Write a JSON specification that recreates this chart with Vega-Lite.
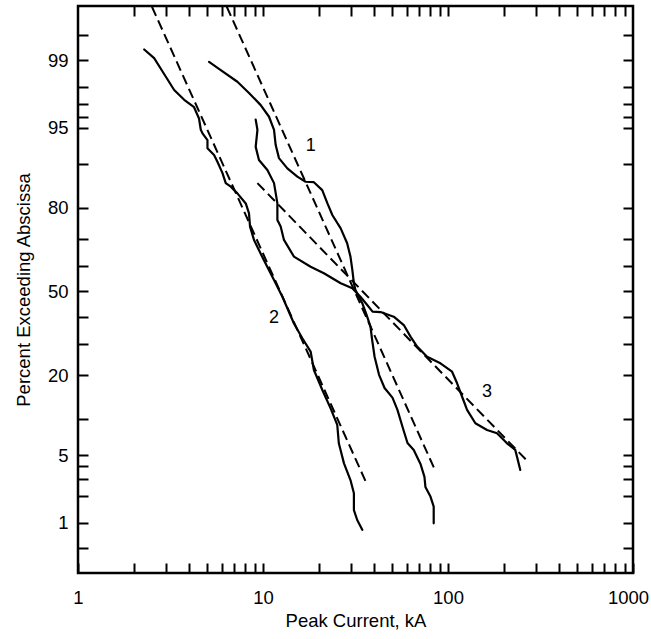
{
  "$schema": "https://vega.github.io/schema/vega-lite/v6.json",
  "width": 555,
  "height": 567,
  "autosize": {"type": "none"},
  "padding": {"left": 78, "top": 6, "right": 18, "bottom": 66},
  "config": {
    "font": "Liberation Sans",
    "view": {"stroke": "black", "strokeWidth": 2.5},
    "axis": {
      "domain": false,
      "grid": false,
      "ticks": true,
      "tickSize": -10,
      "tickWidth": 2,
      "tickColor": "black",
      "labelFont": "Liberation Sans",
      "labelFontSize": 18.5,
      "labelColor": "black",
      "titleFont": "Liberation Sans",
      "titleFontSize": 18.5,
      "titleFontWeight": "normal",
      "titleColor": "black",
      "labelOverlap": false,
      "labelFlush": false,
      "labelBound": false
    }
  },
  "datasets": {
    "curves": [
      {"curve": "1", "n": 1, "kA": 5.11, "pct": 98.95},
      {"curve": "1", "n": 2, "kA": 5.91, "pct": 98.7},
      {"curve": "1", "n": 3, "kA": 7.27, "pct": 98.25},
      {"curve": "1", "n": 4, "kA": 8.4, "pct": 97.7},
      {"curve": "1", "n": 5, "kA": 9.72, "pct": 96.95},
      {"curve": "1", "n": 6, "kA": 10.78, "pct": 96.05},
      {"curve": "1", "n": 7, "kA": 11.47, "pct": 94.8},
      {"curve": "1", "n": 8, "kA": 11.71, "pct": 92.95},
      {"curve": "1", "n": 9, "kA": 12.2, "pct": 91.0},
      {"curve": "1", "n": 10, "kA": 13.54, "pct": 89.2},
      {"curve": "1", "n": 11, "kA": 15.33, "pct": 87.6},
      {"curve": "1", "n": 12, "kA": 17.0, "pct": 86.5},
      {"curve": "1", "n": 13, "kA": 18.84, "pct": 86.4},
      {"curve": "1", "n": 14, "kA": 20.9, "pct": 84.6},
      {"curve": "1", "n": 15, "kA": 22.3, "pct": 81.2},
      {"curve": "1", "n": 16, "kA": 23.7, "pct": 77.9},
      {"curve": "1", "n": 17, "kA": 26.3, "pct": 73.7},
      {"curve": "1", "n": 18, "kA": 28.5, "pct": 68.6},
      {"curve": "1", "n": 19, "kA": 29.7, "pct": 63.7},
      {"curve": "1", "n": 20, "kA": 30.4, "pct": 58.6},
      {"curve": "1", "n": 21, "kA": 31.0, "pct": 53.3},
      {"curve": "1", "n": 22, "kA": 31.6, "pct": 50.6},
      {"curve": "1", "n": 23, "kA": 34.4, "pct": 45.3},
      {"curve": "1", "n": 24, "kA": 36.3, "pct": 40.7},
      {"curve": "1", "n": 25, "kA": 38.1, "pct": 36.2},
      {"curve": "1", "n": 26, "kA": 38.9, "pct": 31.3},
      {"curve": "1", "n": 27, "kA": 40.1, "pct": 25.6},
      {"curve": "1", "n": 28, "kA": 42.4, "pct": 20.1},
      {"curve": "1", "n": 29, "kA": 45.4, "pct": 16.6},
      {"curve": "1", "n": 30, "kA": 50.1, "pct": 14.3},
      {"curve": "1", "n": 31, "kA": 53.3, "pct": 11.7},
      {"curve": "1", "n": 32, "kA": 56.8, "pct": 8.66},
      {"curve": "1", "n": 33, "kA": 60.4, "pct": 6.39},
      {"curve": "1", "n": 34, "kA": 65.3, "pct": 5.56},
      {"curve": "1", "n": 35, "kA": 71.0, "pct": 4.15},
      {"curve": "1", "n": 36, "kA": 74.6, "pct": 3.12},
      {"curve": "1", "n": 37, "kA": 75.5, "pct": 2.47},
      {"curve": "1", "n": 38, "kA": 80.4, "pct": 1.96},
      {"curve": "1", "n": 39, "kA": 83.7, "pct": 1.53},
      {"curve": "1", "n": 40, "kA": 83.7, "pct": 0.99},

      {"curve": "2", "n": 1, "kA": 2.28, "pct": 99.25},
      {"curve": "2", "n": 2, "kA": 2.58, "pct": 99.05},
      {"curve": "2", "n": 3, "kA": 2.87, "pct": 98.64},
      {"curve": "2", "n": 4, "kA": 3.31, "pct": 97.86},
      {"curve": "2", "n": 5, "kA": 3.75, "pct": 97.3},
      {"curve": "2", "n": 6, "kA": 4.24, "pct": 96.8},
      {"curve": "2", "n": 7, "kA": 4.51, "pct": 95.9},
      {"curve": "2", "n": 8, "kA": 4.61, "pct": 94.8},
      {"curve": "2", "n": 9, "kA": 4.71, "pct": 94.4},
      {"curve": "2", "n": 10, "kA": 5.01, "pct": 93.6},
      {"curve": "2", "n": 11, "kA": 5.01, "pct": 92.5},
      {"curve": "2", "n": 12, "kA": 5.44, "pct": 91.5},
      {"curve": "2", "n": 13, "kA": 5.67, "pct": 90.4},
      {"curve": "2", "n": 14, "kA": 6.04, "pct": 88.3},
      {"curve": "2", "n": 15, "kA": 6.29, "pct": 86.2},
      {"curve": "2", "n": 16, "kA": 6.7, "pct": 85.4},
      {"curve": "2", "n": 17, "kA": 7.27, "pct": 83.8},
      {"curve": "2", "n": 18, "kA": 8.07, "pct": 81.2},
      {"curve": "2", "n": 19, "kA": 8.4, "pct": 78.4},
      {"curve": "2", "n": 20, "kA": 8.51, "pct": 74.3},
      {"curve": "2", "n": 21, "kA": 8.94, "pct": 69.8},
      {"curve": "2", "n": 22, "kA": 10.1, "pct": 62.4},
      {"curve": "2", "n": 23, "kA": 11.47, "pct": 54.6},
      {"curve": "2", "n": 24, "kA": 12.73, "pct": 47.9},
      {"curve": "2", "n": 25, "kA": 14.7, "pct": 37.4},
      {"curve": "2", "n": 26, "kA": 16.32, "pct": 31.9},
      {"curve": "2", "n": 27, "kA": 18.09, "pct": 27.3},
      {"curve": "2", "n": 28, "kA": 18.84, "pct": 21.5},
      {"curve": "2", "n": 29, "kA": 20.93, "pct": 16.1},
      {"curve": "2", "n": 30, "kA": 23.2, "pct": 12.0},
      {"curve": "2", "n": 31, "kA": 25.2, "pct": 9.0},
      {"curve": "2", "n": 32, "kA": 25.7, "pct": 6.35},
      {"curve": "2", "n": 33, "kA": 27.4, "pct": 4.2},
      {"curve": "2", "n": 34, "kA": 29.7, "pct": 2.9},
      {"curve": "2", "n": 35, "kA": 31.0, "pct": 2.13},
      {"curve": "2", "n": 36, "kA": 31.0, "pct": 1.4},
      {"curve": "2", "n": 37, "kA": 32.3, "pct": 1.08},
      {"curve": "2", "n": 38, "kA": 34.4, "pct": 0.83},

      {"curve": "3", "n": 1, "kA": 9.13, "pct": 95.8},
      {"curve": "3", "n": 2, "kA": 9.33, "pct": 94.8},
      {"curve": "3", "n": 3, "kA": 9.13, "pct": 92.7},
      {"curve": "3", "n": 4, "kA": 9.51, "pct": 90.7},
      {"curve": "3", "n": 5, "kA": 10.56, "pct": 88.9},
      {"curve": "3", "n": 6, "kA": 11.47, "pct": 86.2},
      {"curve": "3", "n": 7, "kA": 11.96, "pct": 81.2},
      {"curve": "3", "n": 8, "kA": 11.96, "pct": 76.4},
      {"curve": "3", "n": 9, "kA": 12.46, "pct": 74.3},
      {"curve": "3", "n": 10, "kA": 12.98, "pct": 69.8},
      {"curve": "3", "n": 11, "kA": 14.7, "pct": 63.7},
      {"curve": "3", "n": 12, "kA": 18.09, "pct": 59.8},
      {"curve": "3", "n": 13, "kA": 21.34, "pct": 57.3},
      {"curve": "3", "n": 14, "kA": 26.3, "pct": 53.3},
      {"curve": "3", "n": 15, "kA": 30.4, "pct": 51.3},
      {"curve": "3", "n": 16, "kA": 33.7, "pct": 47.8},
      {"curve": "3", "n": 17, "kA": 36.6, "pct": 44.6},
      {"curve": "3", "n": 18, "kA": 39.1, "pct": 42.0},
      {"curve": "3", "n": 19, "kA": 43.2, "pct": 41.8},
      {"curve": "3", "n": 20, "kA": 50.9, "pct": 40.0},
      {"curve": "3", "n": 21, "kA": 57.7, "pct": 36.8},
      {"curve": "3", "n": 22, "kA": 62.7, "pct": 32.5},
      {"curve": "3", "n": 23, "kA": 68.1, "pct": 29.0},
      {"curve": "3", "n": 24, "kA": 77.1, "pct": 25.6},
      {"curve": "3", "n": 25, "kA": 91.0, "pct": 23.5},
      {"curve": "3", "n": 26, "kA": 105.2, "pct": 21.0},
      {"curve": "3", "n": 27, "kA": 112.0, "pct": 17.8},
      {"curve": "3", "n": 28, "kA": 119.2, "pct": 14.5},
      {"curve": "3", "n": 29, "kA": 126.8, "pct": 11.7},
      {"curve": "3", "n": 30, "kA": 140.6, "pct": 9.26},
      {"curve": "3", "n": 31, "kA": 162.6, "pct": 8.2},
      {"curve": "3", "n": 32, "kA": 184.1, "pct": 7.7},
      {"curve": "3", "n": 33, "kA": 208.4, "pct": 6.35},
      {"curve": "3", "n": 34, "kA": 231.0, "pct": 5.56},
      {"curve": "3", "n": 35, "kA": 236.9, "pct": 4.72},
      {"curve": "3", "n": 36, "kA": 245.9, "pct": 3.64}
    ],
    "fits": [
      {"fit": "1", "kA": 6.37, "pct": 99.79},
      {"fit": "1", "kA": 85.5, "pct": 3.56},
      {"fit": "2", "kA": 2.51, "pct": 99.79},
      {"fit": "2", "kA": 36.6, "pct": 2.59},
      {"fit": "3", "kA": 9.33, "pct": 86.2},
      {"fit": "3", "kA": 272.6, "pct": 4.3}
    ],
    "labels": [
      {"label": "1", "kA": 18.1, "pct": 92.8},
      {"label": "2", "kA": 11.47, "pct": 39.4},
      {"label": "3", "kA": 162.6, "pct": 15.7}
    ]
  },
  "resolve": {
    "scale": {"x": "shared", "y": "shared"},
    "axis": {"x": "independent", "y": "independent"}
  },
  "layer": [
    {
      "description": "Measured cumulative distributions, one line per data set",
      "data": {"name": "curves"},
      "transform": [{"calculate": "quantileNormal(datum.pct / 100)", "as": "probit"}],
      "mark": {"type": "line", "color": "black", "strokeWidth": 2.2, "clip": true, "strokeJoin": "round", "strokeCap": "round"},
      "encoding": {
        "x": {
          "field": "kA",
          "type": "quantitative",
          "scale": {"type": "log", "domain": [1, 1000], "nice": false},
          "axis": {
            "orient": "bottom",
            "title": "Peak Current, kA",
            "values": [1, 2, 3, 4, 5, 6, 7, 8, 9, 10, 20, 30, 40, 50, 60, 70, 80, 90, 100, 200, 300, 400, 500, 600, 700, 800, 900, 1000],
            "labelExpr": "indexof([1, 10, 100, 1000], datum.value) >= 0 ? format(datum.value, 'd') : ''",
            "labelOffset": {"condition": {"test": "datum.value === 1000", "value": -5}, "value": 0},
            "labelPadding": 25,
            "titlePadding": 5
          }
        },
        "y": {
          "field": "probit",
          "type": "quantitative",
          "scale": {"type": "linear", "domain": [-2.83, 2.87], "nice": false, "zero": false},
          "axis": {
            "orient": "left",
            "title": "Percent Exceeding Abscissa",
            "values": {"expr": "[quantileNormal(0.005), quantileNormal(0.01), quantileNormal(0.02), quantileNormal(0.03), quantileNormal(0.04), quantileNormal(0.05), quantileNormal(0.1), quantileNormal(0.2), quantileNormal(0.3), quantileNormal(0.4), quantileNormal(0.5), quantileNormal(0.6), quantileNormal(0.7), quantileNormal(0.8), quantileNormal(0.9), quantileNormal(0.95), quantileNormal(0.96), quantileNormal(0.97), quantileNormal(0.98), quantileNormal(0.99), quantileNormal(0.995)]"},
            "labelExpr": "indexof([1, 5, 20, 50, 80, 95, 99], round(cumulativeNormal(datum.value) * 100)) >= 0 && abs(cumulativeNormal(datum.value) * 100 - round(cumulativeNormal(datum.value) * 100)) < 0.01 ? format(round(cumulativeNormal(datum.value) * 100), 'd') : ''",
            "labelPadding": 20,
            "titlePadding": 14
          }
        },
        "detail": {"field": "curve"},
        "order": {"field": "n"}
      }
    },
    {
      "description": "Log-normal fits drawn as dashed straight lines",
      "data": {"name": "fits"},
      "transform": [{"calculate": "quantileNormal(datum.pct / 100)", "as": "probit"}],
      "mark": {"type": "line", "color": "black", "strokeWidth": 2, "strokeDash": [10, 5], "clip": true},
      "encoding": {
        "x": {
          "field": "kA",
          "type": "quantitative",
          "axis": {
            "orient": "top",
            "title": null,
            "labels": false,
            "values": [2, 3, 4, 5, 6, 7, 8, 9, 10, 20, 30, 40, 50, 60, 70, 80, 90, 100, 200, 300, 400, 500, 600, 700, 800, 900]
          }
        },
        "y": {
          "field": "probit",
          "type": "quantitative",
          "axis": {
            "orient": "right",
            "title": null,
            "labels": false,
            "values": {"expr": "[quantileNormal(0.005), quantileNormal(0.01), quantileNormal(0.02), quantileNormal(0.03), quantileNormal(0.04), quantileNormal(0.05), quantileNormal(0.1), quantileNormal(0.2), quantileNormal(0.3), quantileNormal(0.4), quantileNormal(0.5), quantileNormal(0.6), quantileNormal(0.7), quantileNormal(0.8), quantileNormal(0.9), quantileNormal(0.95), quantileNormal(0.96), quantileNormal(0.97), quantileNormal(0.98), quantileNormal(0.99), quantileNormal(0.995)]"}
          }
        },
        "detail": {"field": "fit"}
      }
    },
    {
      "description": "Curve numbers",
      "data": {"name": "labels"},
      "transform": [{"calculate": "quantileNormal(datum.pct / 100)", "as": "probit"}],
      "mark": {"type": "text", "color": "black", "fontSize": 18, "font": "Liberation Sans", "align": "center", "baseline": "middle"},
      "encoding": {
        "x": {"field": "kA", "type": "quantitative", "axis": null},
        "y": {"field": "probit", "type": "quantitative", "axis": null},
        "text": {"field": "label"}
      }
    }
  ]
}
